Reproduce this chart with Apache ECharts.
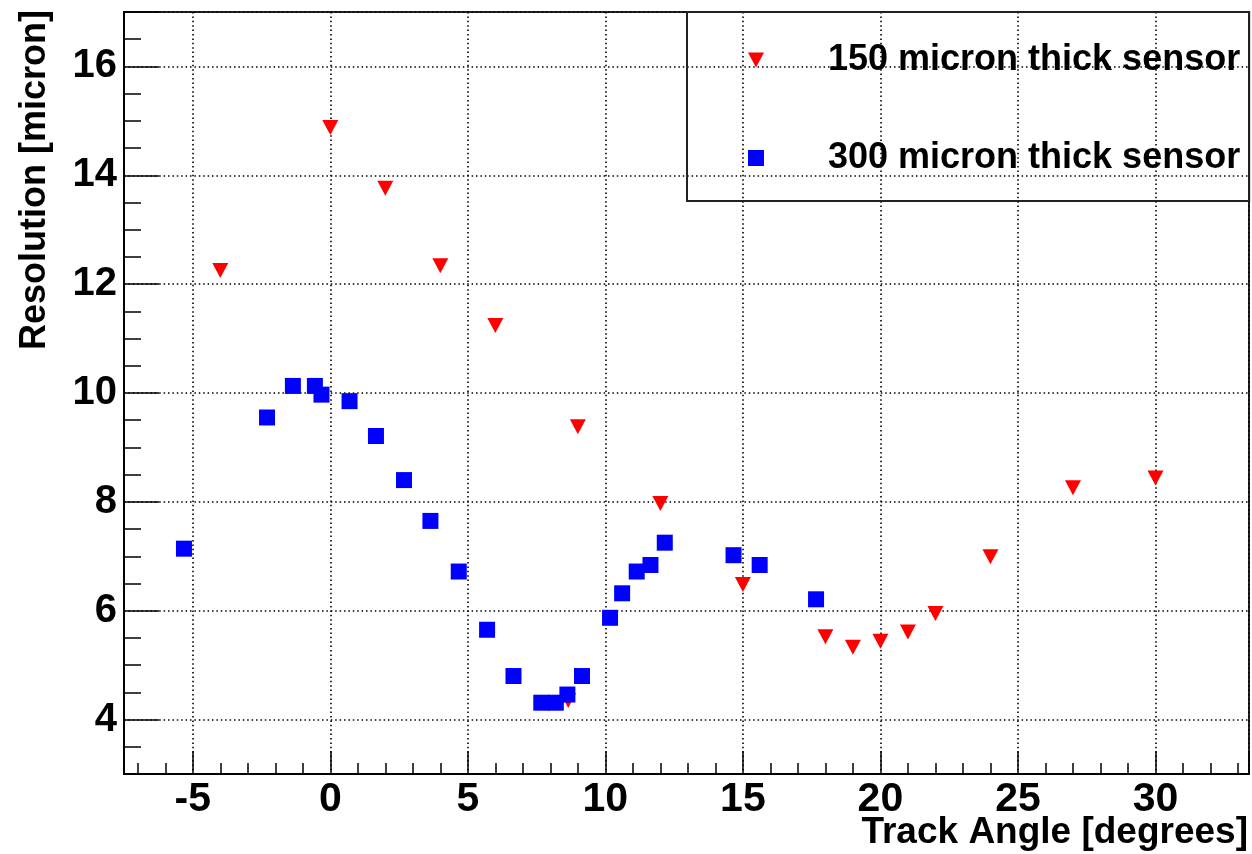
<!DOCTYPE html>
<html>
<head>
<meta charset="utf-8">
<script src="https://cdn.jsdelivr.net/npm/echarts@6/dist/echarts.min.js"></script>
<style>
html,body{margin:0;padding:0;background:#fff;}
#c{width:1252px;height:854px;}
</style>
</head>
<body>
<div id="c"></div>
<script>
// 150 micron thick sensor
const angle150 = [-4, 0, 2, 4, 6, 8.65, 9, 12, 15, 18, 19, 20, 21, 22, 24, 27, 30];
const res150   = [12.25, 14.88, 13.76, 12.34, 11.24, 4.35, 9.38, 7.97, 6.48, 5.52, 5.33, 5.44, 5.61, 5.95, 6.99, 8.26, 8.44];
// 300 micron thick sensor
const angle300 = [-5.32, -2.3, -1.36, -0.56, -0.32, 0.7, 1.66, 2.68, 3.64, 4.67, 5.70, 6.66, 7.67, 8.2, 8.62, 9.15, 10.17, 10.61, 11.14, 11.64, 12.16, 14.66, 15.61, 17.66];
const res300   = [7.14, 9.55, 10.13, 10.13, 9.97, 9.85, 9.21, 8.40, 7.65, 6.72, 5.65, 4.80, 4.31, 4.31, 4.46, 4.80, 5.87, 6.32, 6.72, 6.84, 7.25, 7.02, 6.84, 6.21];

const seriesNames = ['150 micron thick sensor', '300 micron thick sensor'];
const xTitle = 'Track Angle [degrees]';
const yTitle = 'Resolution [micron]';

const FONT = 'Liberation Sans, Arial, Helvetica, sans-serif';
const zip = (a, b) => a.map((v, i) => [v, b[i]]);

const chart = echarts.init(document.getElementById('c'), null, {renderer: 'canvas'});
const gridLine = {show: true, lineStyle: {color: '#000', width: 1.6, type: [1.5, 2.9]}};

chart.setOption({
  animation: false,
  backgroundColor: '#fff',
  grid: {left: 124, top: 12, right: 3, bottom: 80, show: true, borderColor: '#222', borderWidth: 2, containLabel: false, outerBoundsMode: 'none'},
  xAxis: {
    type: 'value', min: -7.5, max: 33.4, minInterval: 5, maxInterval: 5, splitNumber: 8,
    axisLine: {show: true, onZero: false, lineStyle: {color: '#000', width: 2}},
    axisTick: {show: true, inside: true, length: 23, lineStyle: {color: '#000', width: 1.5}},
    minorTick: {show: true, splitNumber: 5, length: 11, lineStyle: {color: '#000', width: 1.5}},
    axisLabel: {showMinLabel: false, showMaxLabel: false, margin: 5, color: '#000', fontSize: 41, fontWeight: 'bold', fontFamily: FONT},
    splitLine: gridLine
  },
  yAxis: {
    type: 'value', min: 3, max: 17, minInterval: 2, maxInterval: 2,
    axisLine: {show: true, onZero: false, lineStyle: {color: '#000', width: 2}},
    axisTick: {show: true, inside: true, length: 35, lineStyle: {color: '#000', width: 1.5}},
    minorTick: {show: true, splitNumber: 4, length: 17, lineStyle: {color: '#000', width: 1.5}},
    axisLabel: {showMinLabel: false, showMaxLabel: false, margin: 7, color: '#000', fontSize: 40, fontWeight: 'bold', fontFamily: FONT},
    splitLine: gridLine
  },
  legend: {
    show: true,
    orient: 'vertical',
    left: 687, top: 12,
    padding: [28, 9, 23, 61],
    itemGap: 58,
    itemWidth: 16, itemHeight: 16,
    borderColor: '#222', borderWidth: 2,
    backgroundColor: 'transparent',
    selectedMode: false,
    textStyle: {color: '#000', fontSize: 36, fontWeight: 'bold', fontFamily: FONT, lineHeight: 40, padding: [0, 0, 0, 59]},
    data: seriesNames
  },
  graphic: [
    {type: 'text', x: 1248, y: 833, style: {text: xTitle, align: 'right', verticalAlign: 'middle', fill: '#000', font: 'bold 37px ' + FONT}},
    {type: 'text', x: 35, y: 180, rotation: Math.PI / 2, style: {text: yTitle, align: 'center', verticalAlign: 'middle', fill: '#000', font: 'bold 36px ' + FONT}}
  ],
  series: [
    {
      name: seriesNames[0], type: 'scatter',
      symbol: 'path://M0,0L16,0L8,15Z', symbolSize: [16, 15],
      itemStyle: {color: '#ff0000', opacity: 1},
      emphasis: {disabled: true},
      data: zip(angle150, res150)
    },
    {
      name: seriesNames[1], type: 'scatter',
      symbol: 'rect', symbolSize: 16,
      itemStyle: {color: '#0000ff', opacity: 1},
      emphasis: {disabled: true},
      data: zip(angle300, res300)
    }
  ]
});
</script>
</body>
</html>
